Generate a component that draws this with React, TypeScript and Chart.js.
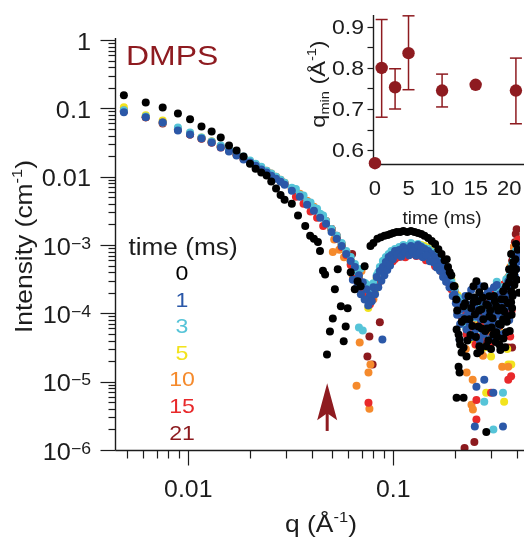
import React, { useEffect, useRef } from "react";
import { Chart, registerables } from "chart.js";

Chart.register(...registerables);

const FONT = '"Liberation Sans", Arial, Helvetica, sans-serif';
const INK = "#1c1c1c";
const DARK_RED = "#8e1b20";

// ---------- main plot data: [q (1/Å), intensity (1/cm)] ----------
const timeLabels = ["0", "1", "3", "5", "10", "15", "21"];
const seriesColors = ["#000000", "#2b58a8", "#56c4d8", "#f2e31d", "#f58a2c", "#e8292b", "#8c1a1e"];

const series_t0: number[][] = [
  [0.00485, 0.155], [0.0062, 0.122], [0.0075, 0.103], [0.0089, 0.084], [0.0102, 0.069], [0.0116, 0.054],
  [0.013, 0.046], [0.0144, 0.0375], [0.0158, 0.0286], [0.0172, 0.0242], [0.0186, 0.0198], [0.02, 0.0155],
  [0.0213, 0.0131], [0.0227, 0.0115], [0.0241, 0.0104], [0.0254, 0.0085], [0.0268, 0.0067], [0.0282, 0.0054],
  [0.0295, 0.0046], [0.032, 0.004], [0.0343, 0.0027], [0.0372, 0.0019], [0.0393, 0.00136], [0.041, 0.00123],
  [0.0429, 0.00111], [0.0439, 0.00082], [0.0454, 0.00042], [0.0465, 0.00037], [0.0475, 2.5e-5], [0.0491, 5.4e-5],
  [0.0507, 8.4e-5], [0.0519, 0.000225], [0.0536, 0.00044], [0.0555, 0.000127], [0.0573, 3.9e-5], [0.0586, 6.4e-5],
  [0.0599, 0.000119], [0.062, 0.0004], [0.0649, 0.000225], [0.067, 0.000296], [0.0693, 0.00025], [0.0725, 0.00049],
  [0.0774, 0.00097], [0.08, 0.00107], [0.0837, 0.00123], [0.087, 0.0013], [0.0906, 0.00136], [0.094, 0.0014],
  [0.0969, 0.00145], [0.1, 0.0015], [0.104, 0.00155], [0.108, 0.00155], [0.112, 0.0016], [0.117, 0.00155],
  [0.122, 0.0016], [0.127, 0.00155], [0.132, 0.0015], [0.137, 0.00145], [0.142, 0.00136], [0.148, 0.00127],
  [0.154, 0.00114], [0.16, 0.00103], [0.166, 0.00087], [0.172, 0.00074], [0.178, 0.0006], [0.1823, 0.00062],
  [0.185, 0.000475], [0.1886, 0.0004], [0.192, 0.00036], [0.1971, 0.00025], [0.199, 0.00025], [0.203, 0.00016],
  [0.2037, 5.8e-5], [0.2083, 4.9e-5], [0.2106, 4.15e-5], [0.2203, 3.16e-5], [0.2154, 2.67e-5], [0.2277, 2.33e-5],
  [0.2083, 1.66e-5], [0.2106, 1.36e-5], [0.2203, 5.8e-6], [0.2037, 5.8e-6], [0.2844, 1.84e-6], [0.2545, 0.000296],
  [0.2462, 0.000249], [0.2203, 0.000127], [0.2462, 0.000145], [0.2752, 8.2e-5], [0.2943, 9.0e-5], [0.318, 0.000127],
  [0.3437, 8.2e-5], [0.318, 5.3e-5], [0.3553, 5.3e-5], [0.2844, 3.3e-5], [0.2631, 3.3e-5], [0.2602, 6.4e-5],
  [0.2355, 8.2e-5], [0.2328, 0.000178], [0.3674, 0.000286], [0.3758, 0.000211], [0.3437, 0.000211], [0.2943, 0.000178],
  [0.2631, 0.000204], [0.3758, 0.00074], [0.3845, 0.00056], [0.3674, 0.00044], [0.3553, 0.00025], [0.3758, 0.000145],
  [0.3887, 0.000375], [0.3078, 4.9e-5], [0.329, 3.5e-5], [0.3366, 0.000161], [0.2844, 0.000136], [0.302, 6.2e-5],
  [0.269, 0.000115], [0.2503, 9.7e-5], [0.2228, 8.2e-5], [0.3475, 0.000107], [0.397, 0.00044], [0.397, 0.00103],
  [0.24, 0.00012], [0.258, 0.00015], [0.27, 6.0e-5], [0.29, 0.00013], [0.31, 0.00018], [0.325, 0.00011],
  [0.335, 6.8e-5], [0.35, 0.00016], [0.36, 9.0e-5], [0.38, 0.00012],
  [0.205, 0.00011], [0.212, 3.5e-5], [0.216, 7.5e-5], [0.224, 0.00014], [0.23, 4.0e-5], [0.238, 4.8e-5],
  [0.243, 6.5e-5], [0.249, 0.00017], [0.253, 4.5e-5], [0.257, 2.6e-5], [0.262, 0.00011], [0.266, 2.8e-5],
  [0.273, 0.00017], [0.278, 0.00025], [0.281, 5.5e-5], [0.287, 6.0e-5], [0.291, 4.0e-5], [0.297, 0.00011],
  [0.3, 3.0e-5], [0.305, 8.5e-5], [0.313, 0.00015], [0.316, 3.8e-5], [0.322, 4.5e-5], [0.328, 7.0e-5],
  [0.333, 2.9e-5], [0.339, 0.00012], [0.345, 4.3e-5], [0.352, 3.2e-5], [0.358, 7.5e-5], [0.363, 0.00014],
  [0.37, 5.5e-5], [0.373, 0.00034], [0.378, 9.5e-5], [0.382, 0.00018], [0.386, 0.00048], [0.39, 0.00026],
  [0.394, 0.00062], [0.401, 0.00031], [0.405, 0.00085], [0.41, 0.0002],
];

const series_t1: number[][] = [
  [0.00485, 0.0873], [0.0062, 0.0738], [0.0075, 0.0623], [0.0089, 0.0475], [0.0102, 0.0415], [0.0116, 0.0362],
  [0.013, 0.0316], [0.0144, 0.0267], [0.0158, 0.0233], [0.0172, 0.0204], [0.0186, 0.0178], [0.02, 0.0161],
  [0.0213, 0.0145], [0.0227, 0.0127], [0.0241, 0.0115], [0.0254, 0.0103], [0.0268, 0.00935], [0.0282, 0.00844],
  [0.0295, 0.00762], [0.032, 0.00622], [0.035, 0.00508], [0.038, 0.00388], [0.041, 0.00316], [0.044, 0.0025],
  [0.047, 0.00204], [0.05, 0.00155], [0.053, 0.00123], [0.056, 0.000966], [0.059, 0.000738], [0.062, 0.000582],
  [0.065, 0.000475], [0.068, 0.000362], [0.071, 0.000286], [0.074, 0.000225], [0.077, 0.000184], [0.08, 0.000241],
  [0.083, 0.000339], [0.086, 0.000415], [0.0885, 4.15e-5], [0.089, 0.000475], [0.092, 0.000562], [0.095, 0.000667],
  [0.098, 0.000713], [0.102, 0.000817], [0.107, 0.000846], [0.112, 0.000935], [0.117, 0.000873], [0.122, 0.000966],
  [0.127, 0.000904], [0.132, 0.001], [0.137, 0.000935], [0.142, 0.000873], [0.148, 0.000817], [0.154, 0.000738],
  [0.16, 0.000667], [0.166, 0.000562], [0.172, 0.000475], [0.178, 0.000415], [0.185, 0.000339], [0.192, 0.000258],
  [0.199, 0.00019], [0.206, 0.00015], [0.213, 0.000115], [0.22, 8.7e-5], [0.228, 0.000136], [0.236, 6.9e-5],
  [0.244, 0.000107], [0.252, 5.8e-5], [0.26, 0.000161], [0.268, 8.2e-5], [0.276, 4.9e-5], [0.284, 9.7e-5],
  [0.292, 6.2e-5], [0.3, 0.000115], [0.308, 7.6e-5], [0.316, 0.000161], [0.324, 9.7e-5], [0.332, 0.00019],
  [0.34, 0.000136], [0.348, 0.000225], [0.356, 0.000172], [0.364, 0.000296], [0.372, 0.000225], [0.38, 0.000375],
  [0.388, 0.000475], [0.396, 0.000582], [0.404, 0.000667], [0.412, 0.000738],
  [0.2106, 4.15e-5], [0.228, 5.8e-5], [0.2545, 8.4e-6], [0.3078, 6.9e-6], [0.25, 2.2e-6], [0.343, 2.2e-6],
  [0.278, 1.07e-5], [0.24, 0.00022], [0.265, 0.00025], [0.29, 0.00021], [0.31, 0.00024], [0.33, 0.00013],
  [0.35, 0.0001], [0.37, 0.00015], [0.385, 0.0003], [0.225, 0.00018], [0.27, 0.00015], [0.3, 0.00017], [0.32, 0.00026],
  [0.0995, 0.00062], [0.1045, 0.00072], [0.1095, 0.00068], [0.1145, 0.00078], [0.1195, 0.00071], [0.1245, 0.0008],
  [0.1295, 0.0007], [0.1345, 0.00076], [0.1395, 0.00066], [0.145, 0.0007], [0.151, 0.00058], [0.157, 0.00056],
  [0.163, 0.00047], [0.169, 0.00042], [0.175, 0.00034], [0.181, 0.00029], [0.188, 0.00024], [0.195, 0.00018],
  [0.202, 0.00014],
  [0.0635, 0.00031], [0.0665, 0.00024], [0.0695, 0.00019], [0.0725, 0.00016], [0.0755, 0.00013], [0.0785, 0.00015],
  [0.0815, 0.00019], [0.0845, 0.00024], [0.0875, 0.0003], [0.0905, 0.00036], [0.0935, 0.00043], [0.0965, 0.0005],
  [0.205, 9.5e-5], [0.212, 7.0e-5], [0.218, 0.00012], [0.232, 0.0001], [0.24, 4.5e-5], [0.248, 0.00013],
  [0.256, 9.0e-5], [0.264, 4.0e-5], [0.272, 0.00011], [0.28, 0.00018], [0.288, 7.5e-5], [0.296, 0.00014],
  [0.304, 4.5e-5], [0.312, 0.0001], [0.32, 6.0e-5], [0.328, 0.00015], [0.336, 9.0e-5], [0.344, 5.0e-5],
  [0.352, 0.00012], [0.36, 0.00021], [0.368, 8.0e-5], [0.376, 0.00026], [0.384, 0.00019], [0.392, 0.00035],
  [0.4, 0.00045], [0.408, 0.00058],
];

const series_t3: number[][] = [
  [0.00485, 0.0935], [0.0062, 0.0762], [0.0075, 0.0623], [0.0089, 0.0526], [0.0102, 0.0444], [0.0116, 0.0375],
  [0.013, 0.0327], [0.0144, 0.0286], [0.0158, 0.0249], [0.0172, 0.0218], [0.0186, 0.0197], [0.02, 0.0172],
  [0.0213, 0.0155], [0.0227, 0.014], [0.0241, 0.0122], [0.0254, 0.0111], [0.0268, 0.01], [0.0282, 0.00904],
  [0.0295, 0.00816], [0.032, 0.0069], [0.035, 0.00544], [0.038, 0.00429], [0.041, 0.0035], [0.044, 0.00286],
  [0.047, 0.00225], [0.05, 0.00172], [0.053, 0.00136], [0.056, 0.00107], [0.059, 0.000817], [0.062, 0.000667],
  [0.065, 0.000526], [0.068, 6.2e-5], [0.069, 0.000444], [0.071, 5.6e-5], [0.074, 0.000267], [0.077, 0.000211],
  [0.08, 0.000276], [0.083, 0.000362], [0.086, 0.000475], [0.089, 0.000582], [0.092, 0.000667], [0.095, 0.000738],
  [0.098, 0.000817], [0.102, 0.000873], [0.107, 0.000935], [0.112, 0.001], [0.117, 0.000966], [0.122, 0.00107],
  [0.127, 0.001], [0.132, 0.00103], [0.137, 0.000966], [0.142, 0.000904], [0.148, 0.000873], [0.154, 0.000789],
  [0.16, 0.000713], [0.166, 0.000622], [0.172, 0.000526], [0.178, 0.000444], [0.185, 0.000362], [0.192, 0.000296],
  [0.199, 0.000225], [0.206, 0.000172], [0.213, 0.000136], [0.22, 0.000161], [0.228, 8.2e-5], [0.236, 0.000115],
  [0.244, 4.9e-5], [0.252, 8.7e-5], [0.26, 6.2e-5], [0.268, 0.000136], [0.276, 8.2e-5], [0.284, 0.000115],
  [0.292, 4.15e-5], [0.3, 8.7e-5], [0.308, 0.000161], [0.316, 6.9e-5], [0.324, 0.000211], [0.332, 0.000115],
  [0.34, 0.000241], [0.348, 0.000161], [0.356, 0.000316], [0.364, 0.000225], [0.372, 0.000444], [0.38, 0.000526],
  [0.388, 0.000667], [0.396, 0.000817], [0.404, 0.000582],
  [0.278, 5.1e-6], [0.308, 2.0e-6], [0.343, 6.9e-6],
  [0.0335, 0.0066], [0.0365, 0.0053], [0.0395, 0.0042], [0.0425, 0.0034], [0.0455, 0.0027],
  [0.1045, 0.00085], [0.1145, 0.00092], [0.1245, 0.00095], [0.1345, 0.00088], [0.145, 0.0008], [0.157, 0.00066],
  [0.169, 0.0005], [0.181, 0.00038],
  [0.0665, 0.00041], [0.0725, 0.00028], [0.0785, 0.00024], [0.0845, 0.0004], [0.0905, 0.0006],
  [0.21, 0.00011], [0.225, 6.5e-5], [0.24, 0.00013], [0.256, 0.00017], [0.272, 5.5e-5], [0.288, 0.00019],
  [0.304, 0.00012], [0.32, 0.00029], [0.336, 8.0e-5], [0.352, 0.00024], [0.368, 0.00035], [0.384, 0.00049],
  [0.4, 0.00075], [0.41, 0.0009],
];

const series_t5: number[][] = [
  [0.00485, 0.1035], [0.0062, 0.0789], [0.0075, 0.0666], [0.0089, 0.0508], [0.0102, 0.0429], [0.0116, 0.0375],
  [0.013, 0.0327], [0.0144, 0.0276], [0.0158, 0.0241], [0.0172, 0.0211], [0.0186, 0.0184], [0.02, 0.0166],
  [0.0213, 0.015], [0.0227, 0.0131], [0.0241, 0.0119], [0.0254, 0.0107], [0.0268, 0.00966], [0.0282, 0.00873],
  [0.0295, 0.00789], [0.032, 0.00644], [0.035, 0.00526], [0.038, 0.00415], [0.041, 0.00327], [0.044, 0.00258],
  [0.047, 0.00211], [0.05, 0.00166], [0.053, 0.00127], [0.056, 0.001], [0.059, 0.000789], [0.062, 0.000582],
  [0.065, 0.000475], [0.068, 0.000362], [0.071, 0.000267], [0.074, 0.000161], [0.077, 0.000197], [0.08, 0.000258],
  [0.083, 0.000327], [0.086, 0.000415], [0.089, 0.000508], [0.092, 0.000582], [0.095, 0.000667], [0.098, 0.000713],
  [0.102, 0.000762], [0.107, 0.000846], [0.112, 0.000873], [0.117, 0.000935], [0.122, 0.000904], [0.127, 0.000966],
  [0.132, 0.000935], [0.137, 0.001], [0.142, 0.000966], [0.148, 0.000904], [0.154, 0.000817], [0.16, 0.000738],
  [0.166, 0.000644], [0.172, 0.000562], [0.178, 0.000475], [0.185, 0.000388], [0.192, 0.000316], [0.199, 0.000249],
  [0.206, 0.000184], [0.213, 0.000145], [0.22, 0.000107], [0.228, 7.6e-5], [0.236, 4.15e-5], [0.244, 8.7e-5],
  [0.252, 3.5e-5], [0.26, 6.9e-5], [0.268, 0.000115], [0.276, 3.16e-5], [0.284, 5.8e-5], [0.292, 0.000107],
  [0.3, 2.33e-5], [0.308, 8.2e-5], [0.316, 0.000161], [0.324, 4.9e-5], [0.332, 0.000172], [0.34, 9.7e-5],
  [0.348, 0.000225], [0.356, 0.000136], [0.364, 1.78e-5], [0.372, 0.000316], [0.38, 0.000444], [0.388, 0.000582],
  [0.396, 0.000873],
  [0.284, 6.9e-6], [0.3475, 5.1e-6], [0.278, 3.16e-5], [0.3765, 1.78e-5],
  [0.1045, 0.00068], [0.1195, 0.00075], [0.1345, 0.00079], [0.151, 0.00069], [0.163, 0.00052], [0.175, 0.0004],
  [0.0695, 0.00021], [0.0755, 0.00012], [0.0815, 0.00022],
  [0.215, 0.00013], [0.232, 5.0e-5], [0.248, 0.00011], [0.264, 2.6e-5], [0.28, 0.00015], [0.296, 4.4e-5],
  [0.312, 0.00018], [0.328, 6.0e-5], [0.344, 0.00026], [0.36, 3.0e-5], [0.376, 0.00021], [0.392, 0.00045],
  [0.405, 0.0011],
];

const series_t10: number[][] = [
  [0.00485, 0.0935], [0.0062, 0.0738], [0.0075, 0.0623], [0.0089, 0.0491], [0.0102, 0.0429], [0.0116, 0.0362],
  [0.013, 0.0327], [0.0144, 0.0276], [0.0158, 0.0241], [0.0172, 0.0211], [0.0186, 0.0184], [0.02, 0.0166],
  [0.0213, 0.015], [0.0227, 0.0136], [0.0241, 0.0122], [0.0254, 0.0111], [0.0268, 0.01], [0.0282, 0.00904],
  [0.0295, 0.00816], [0.032, 0.00667], [0.035, 0.00562], [0.038, 0.00444], [0.041, 0.00362], [0.044, 0.00276],
  [0.047, 0.00225], [0.0507, 0.000789], [0.05, 0.00172], [0.053, 0.00131], [0.056, 0.000873], [0.059, 0.000689],
  [0.062, 0.000526], [0.0686, 3.75e-5], [0.0662, 8.7e-6], [0.0774, 1.78e-5], [0.0757, 1.36e-5], [0.0765, 4.0e-6],
  [0.07, 0.000415], [0.074, 0.000225], [0.08, 0.000161], [0.083, 0.000276], [0.086, 0.000362], [0.089, 0.000444],
  [0.092, 0.000508], [0.095, 0.000582], [0.098, 0.000667], [0.102, 0.000713], [0.107, 0.000789], [0.112, 0.000873],
  [0.117, 0.000873], [0.122, 0.000935], [0.127, 0.000966], [0.132, 0.000904], [0.137, 0.000935], [0.142, 0.000873],
  [0.148, 0.000846], [0.154, 0.000762], [0.16, 0.000689], [0.166, 0.000582], [0.172, 0.000508], [0.178, 0.000429],
  [0.185, 0.00035], [0.192, 0.000276], [0.199, 0.000211], [0.206, 0.000161], [0.213, 0.000122], [0.22, 8.7e-5],
  [0.228, 1.36e-5], [0.236, 5.8e-5], [0.244, 1.07e-5], [0.252, 9.7e-5], [0.26, 4.15e-5], [0.268, 7.6e-5],
  [0.276, 0.000136], [0.284, 4.9e-5], [0.292, 0.000107], [0.3, 6.2e-5], [0.308, 0.000161], [0.316, 8.7e-5],
  [0.324, 0.00019], [0.332, 0.000115], [0.34, 1.66e-5], [0.348, 0.000211], [0.356, 0.000161], [0.364, 0.000339],
  [0.372, 0.000475], [0.38, 0.000738], [0.388, 0.000935],
  [0.2408, 4.6e-6], [0.2447, 3.9e-6], [0.364, 1.66e-5],
  [0.0515, 0.0012], [0.0545, 0.00085], [0.0575, 0.00066],
  [0.1095, 0.0007], [0.1245, 0.00076], [0.1395, 0.00072], [0.154, 0.00064], [0.169, 0.00045],
  [0.0635, 0.00035], [0.0725, 0.00019], [0.0875, 0.00033],
  [0.21, 0.0001], [0.226, 3.0e-5], [0.242, 7.0e-5], [0.258, 0.00013], [0.274, 2.4e-5], [0.29, 8.0e-5],
  [0.306, 0.00011], [0.322, 4.0e-5], [0.338, 0.00017], [0.354, 9.0e-5], [0.37, 0.00024], [0.386, 0.00052],
  [0.396, 0.0008], [0.41, 0.0011],
];

const series_t15: number[][] = [
  [0.00485, 0.0904], [0.0062, 0.0738], [0.0075, 0.0623], [0.0089, 0.0491], [0.0102, 0.0415], [0.0116, 0.0362],
  [0.013, 0.0316], [0.0144, 0.0267], [0.0158, 0.0241], [0.0172, 0.0211], [0.0186, 0.0184], [0.02, 0.0166],
  [0.0213, 0.015], [0.0227, 0.0131], [0.0241, 0.0119], [0.0254, 0.0107], [0.0268, 0.00966], [0.0282, 0.00873],
  [0.0295, 0.00789], [0.032, 0.00667], [0.035, 0.00526], [0.038, 0.00429], [0.041, 0.00338], [0.044, 0.00267],
  [0.047, 0.00218], [0.05, 0.00172], [0.053, 0.00123], [0.056, 0.000935], [0.059, 0.000713], [0.062, 0.000508],
  [0.065, 0.000388], [0.068, 0.000296], [0.071, 0.000225], [0.0757, 4.9e-6], [0.074, 0.000184], [0.077, 0.000136],
  [0.08, 0.00019], [0.083, 0.000258], [0.086, 0.000339], [0.089, 0.000429], [0.092, 0.000508], [0.095, 0.000582],
  [0.098, 0.000644], [0.102, 0.000622], [0.107, 0.000667], [0.112, 0.000689], [0.117, 0.000713], [0.122, 0.000738],
  [0.127, 0.000738], [0.132, 0.000713], [0.137, 0.000689], [0.142, 0.000667], [0.148, 0.000622], [0.154, 0.000582],
  [0.16, 0.000526], [0.166, 0.000475], [0.172, 0.000415], [0.178, 0.00035], [0.185, 0.000286], [0.192, 0.000225],
  [0.199, 0.000178], [0.206, 0.000136], [0.213, 0.000103], [0.22, 8.2e-5], [0.228, 4.9e-5], [0.236, 0.000107],
  [0.244, 6.2e-5], [0.252, 3.5e-5], [0.26, 0.000115], [0.268, 7.6e-5], [0.276, 0.000161], [0.284, 4.4e-5],
  [0.292, 9.7e-5], [0.3, 6.9e-6], [0.308, 6.9e-5], [0.316, 0.000136], [0.324, 8.7e-5], [0.332, 0.000172],
  [0.34, 0.000115], [0.348, 0.000267], [0.356, 0.000161], [0.364, 1.07e-5], [0.372, 4.6e-5], [0.38, 0.000375],
  [0.388, 0.000526], [0.396, 0.000713], [0.404, 0.000935],
  [0.2545, 2.8e-6], [0.2545, 5.4e-6], [0.3758, 1.2e-5],
  [0.0335, 0.0051], [0.0365, 0.004], [0.0395, 0.0031], [0.0425, 0.0025], [0.0455, 0.0019],
  [0.0995, 0.00058], [0.1145, 0.00066], [0.1295, 0.00069], [0.1445, 0.0006], [0.16, 0.00049],
  [0.0665, 0.0003], [0.0785, 0.00016], [0.0845, 0.00027],
  [0.218, 0.00011], [0.234, 7.0e-5], [0.25, 0.00015], [0.266, 4.5e-5], [0.282, 0.00012], [0.298, 3.5e-5],
  [0.314, 0.00021], [0.33, 6.5e-5], [0.346, 0.00015], [0.362, 0.0002], [0.378, 0.00011], [0.394, 0.0006],
  [0.408, 0.0012],
];

const series_t21: number[][] = [
  [0.00485, 0.0904], [0.0062, 0.0738], [0.0075, 0.0602], [0.0089, 0.0491], [0.0102, 0.0415], [0.0116, 0.0362],
  [0.013, 0.0316], [0.0144, 0.0276], [0.0158, 0.0241], [0.0172, 0.0211], [0.0186, 0.0184], [0.02, 0.0166],
  [0.0213, 0.015], [0.0227, 0.0131], [0.0241, 0.0119], [0.0254, 0.0107], [0.0268, 0.00966], [0.0282, 0.00873],
  [0.0295, 0.00789], [0.032, 0.00667], [0.035, 0.00544], [0.038, 0.00429], [0.041, 0.0035], [0.044, 0.00276],
  [0.047, 0.00225], [0.05, 0.00172], [0.053, 0.00136], [0.056, 0.00103], [0.059, 0.000789], [0.062, 0.000582],
  [0.065, 0.000444], [0.068, 0.000339], [0.071, 0.000241], [0.0748, 2.33e-5], [0.0765, 4.6e-5], [0.0793, 1.78e-5],
  [0.08, 0.000211], [0.083, 0.000267], [0.086, 7.4e-5], [0.089, 0.000415], [0.092, 0.000491], [0.095, 0.000582],
  [0.098, 0.000667], [0.102, 0.000713], [0.107, 0.000789], [0.112, 0.000817], [0.117, 0.000873], [0.122, 0.000904],
  [0.127, 0.000904], [0.132, 0.000873], [0.137, 0.000873], [0.142, 0.000817], [0.148, 0.000789], [0.154, 0.000738],
  [0.16, 0.000667], [0.166, 0.000582], [0.172, 0.000508], [0.178, 0.000429], [0.185, 0.00035], [0.192, 0.000276],
  [0.199, 0.000211], [0.206, 0.000161], [0.213, 0.000115], [0.22, 8.7e-5], [0.228, 5.8e-5], [0.236, 0.000107],
  [0.244, 8.2e-5], [0.252, 4.15e-5], [0.26, 0.000136], [0.268, 6.9e-5], [0.276, 9.7e-5], [0.284, 0.000161],
  [0.292, 5.8e-5], [0.3, 0.000115], [0.308, 0.00019], [0.316, 8.2e-5], [0.324, 0.000161], [0.332, 0.000225],
  [0.34, 0.000136], [0.348, 0.000267], [0.356, 0.00019], [0.364, 3.16e-5], [0.372, 0.000375], [0.38, 0.000582],
  [0.388, 0.000935], [0.396, 0.00145],
  [0.2487, 1.31e-6], [0.2228, 1.07e-6], [0.38, 3.16e-5],
  [0.063, 0.00074],
  [0.1095, 0.00075], [0.1245, 0.00082], [0.1395, 0.00076], [0.157, 0.00058], [0.172, 0.00041],
  [0.0695, 0.00026], [0.0755, 0.0002],
  [0.215, 9.0e-5], [0.232, 0.00012], [0.248, 5.0e-5], [0.264, 0.00016], [0.28, 3.8e-5], [0.296, 0.00013],
  [0.312, 4.8e-5], [0.328, 0.00011], [0.344, 0.0002], [0.36, 0.00013], [0.376, 0.00045], [0.392, 0.0011],
  [0.4, 0.0017],
];

const allSeries = [series_t0, series_t1, series_t3, series_t5, series_t10, series_t15, series_t21];
// first listed is drawn on top
const drawOrder = [0, 1, 2, 5, 4, 3, 6];

// ---------- axes ----------
const qMin = 0.004439;
const qMax = 0.4153;
const intensityMin = 1e-6;
const intensityMax = 1;
const xLabelValues = [0.01, 0.1];
const xLabelTexts = ["0.01", "0.1"];
const yLabelValues = [1, 0.1, 0.01, 1e-3, 1e-4, 1e-5, 1e-6];
const yLabelBase = ["1", "0.1", "0.01", "10", "10", "10", "10"];
const yLabelExp = ["", "", "", "\u22123", "\u22124", "\u22125", "\u22126"];

// arrow marking the minimum of the t = 0 curve
const arrowQ = 0.0476;
const arrowTipI = 9.5e-6;
const arrowTailI = 1.9e-6;

// ---------- inset data ----------
const insetTimes = [0, 1, 3, 5, 10, 15, 21];
const insetQmin = [0.568, 0.8, 0.753, 0.836, 0.745, 0.759, 0.745];
const insetErrLow = [null, 0.68, 0.7, 0.747, 0.705, null, 0.664];
const insetErrHigh = [null, 0.918, 0.798, 0.927, 0.785, null, 0.824];
const insetXTicks = [0, 5, 10, 15, 20];
const insetYLabelValues = [0.6, 0.7, 0.8, 0.9];
const insetYMinorValues = [0.6, 0.65, 0.7, 0.75, 0.8, 0.85, 0.9];

type Part = { t: string; size: number; dy?: number };

function drawRich(
  ctx: CanvasRenderingContext2D,
  parts: Part[],
  x: number,
  y: number,
  align: "left" | "center" | "right",
  stretch = 1,
  color = INK,
  rotate = 0
) {
  ctx.save();
  ctx.translate(x, y);
  if (rotate) ctx.rotate(rotate);
  ctx.scale(stretch, 1);
  ctx.fillStyle = color;
  ctx.textBaseline = "alphabetic";
  ctx.textAlign = "left";
  let total = 0;
  const widths = parts.map((p) => {
    ctx.font = `${p.size}px ${FONT}`;
    const w = ctx.measureText(p.t).width;
    total += w;
    return w;
  });
  let cx = align === "left" ? 0 : align === "center" ? -total / 2 : -total;
  parts.forEach((p, i) => {
    ctx.font = `${p.size}px ${FONT}`;
    ctx.fillText(p.t, cx, p.dy ?? 0);
    cx += widths[i];
  });
  ctx.restore();
}

function line(ctx: CanvasRenderingContext2D, x1: number, y1: number, x2: number, y2: number) {
  ctx.beginPath();
  ctx.moveTo(x1, y1);
  ctx.lineTo(x2, y2);
  ctx.stroke();
}

const mainDecor = {
  id: "mainDecor",
  afterDatasetsDraw(chart: any) {
    const ctx: CanvasRenderingContext2D = chart.ctx;
    const xs = chart.scales.x;
    const ys = chart.scales.y;
    const ca = chart.chartArea;
    ctx.save();
    ctx.strokeStyle = INK;
    ctx.lineWidth = 1.4;
    const ax = Math.round(ca.left) - 0.5;
    const ay = Math.round(ca.bottom) + 0.5;
    line(ctx, ax, ca.top - 2, ax, ay);
    line(ctx, ax, ay, chart.width, ay);
    ctx.lineWidth = 1.2;
    for (let e = -6; e <= 0; e++) {
      for (let m = 1; m <= 9; m++) {
        const v = m * Math.pow(10, e);
        if (v > intensityMax * 1.0001) break;
        const py = Math.round(ys.getPixelForValue(v)) + 0.5;
        const len = m === 1 ? 15 : 7;
        line(ctx, ax - len, py, ax, py);
      }
    }
    for (let e = -3; e <= -1; e++) {
      for (let m = 1; m <= 9; m++) {
        const v = m * Math.pow(10, e);
        if (v < qMin || v > qMax) continue;
        const px = Math.round(xs.getPixelForValue(v)) + 0.5;
        const len = m === 1 ? 15 : 8;
        line(ctx, px, ay, px, ay + len);
      }
    }
    yLabelValues.forEach((v, i) => {
      const py = ys.getPixelForValue(v);
      const parts: Part[] = [{ t: yLabelBase[i], size: 23 }];
      if (yLabelExp[i]) parts.push({ t: yLabelExp[i], size: 16, dy: -6 });
      drawRich(ctx, parts, 91, py + 9.5, "right", 1.1);
    });
    xLabelValues.forEach((v, i) => {
      const px = xs.getPixelForValue(v);
      drawRich(ctx, [{ t: xLabelTexts[i], size: 23 }], px, 497, "center", 1.08);
    });
    drawRich(
      ctx,
      [{ t: "q (\u00c5", size: 24 }, { t: "-1", size: 15, dy: -10 }, { t: ")", size: 24 }],
      321, 532, "center", 1.1
    );
    drawRich(
      ctx,
      [{ t: "Intensity (cm", size: 24 }, { t: "-1", size: 15, dy: -10 }, { t: ")", size: 24 }],
      32, 246.5, "center", 1.1, INK, -Math.PI / 2
    );
    drawRich(ctx, [{ t: "DMPS", size: 28 }], 126, 65, "left", 1.14, DARK_RED);
    drawRich(ctx, [{ t: "time (ms)", size: 23 }], 183, 255, "center", 1.14);
    timeLabels.forEach((lab, i) => {
      drawRich(ctx, [{ t: lab, size: 21 }], 182, 280 + i * 26.6, "center", 1.1, seriesColors[i]);
    });
    const axp = xs.getPixelForValue(arrowQ);
    const tipY = ys.getPixelForValue(arrowTipI);
    const tailY = ys.getPixelForValue(arrowTailI);
    ctx.fillStyle = DARK_RED;
    ctx.strokeStyle = DARK_RED;
    ctx.lineWidth = 3;
    line(ctx, axp, tipY + 20, axp, tailY);
    ctx.beginPath();
    ctx.moveTo(axp, tipY);
    ctx.lineTo(axp + 10, tipY + 37);
    ctx.lineTo(axp, tipY + 30);
    ctx.lineTo(axp - 10, tipY + 37);
    ctx.closePath();
    ctx.fill();
    ctx.restore();
  },
};

const insetDecor = {
  id: "insetDecor",
  beforeDatasetsDraw(chart: any) {
    const ctx: CanvasRenderingContext2D = chart.ctx;
    const xs = chart.scales.x;
    const ys = chart.scales.y;
    const ca = chart.chartArea;
    ctx.save();
    ctx.strokeStyle = INK;
    ctx.lineWidth = 1.4;
    const ax = Math.round(ca.left) + 0.5;
    const ay = Math.round(ca.bottom) + 0.5;
    line(ctx, ax, ca.top, ax, ay);
    line(ctx, ax, ay, chart.width, ay);
    ctx.lineWidth = 1.2;
    insetYMinorValues.forEach((v) => {
      const py = Math.round(ys.getPixelForValue(v)) + 0.5;
      line(ctx, ax - 6, py, ax, py);
    });
    ctx.strokeStyle = DARK_RED;
    ctx.lineWidth = 1.5;
    insetTimes.forEach((t, i) => {
      const lo = insetErrLow[i];
      const hi = insetErrHigh[i];
      if (lo == null || hi == null) return;
      const px = xs.getPixelForValue(t);
      const pl = ys.getPixelForValue(lo);
      const ph = ys.getPixelForValue(hi);
      line(ctx, px, pl, px, ph);
      line(ctx, px - 6, pl, px + 6, pl);
      line(ctx, px - 6, ph, px + 6, ph);
    });
    ctx.restore();
  },
  afterDraw(chart: any) {
    const ctx: CanvasRenderingContext2D = chart.ctx;
    const xs = chart.scales.x;
    const ys = chart.scales.y;
    insetYLabelValues.forEach((v) => {
      const py = ys.getPixelForValue(v);
      drawRich(ctx, [{ t: v.toFixed(1), size: 20 }], 74, py + 7, "right", 1.15);
    });
    insetXTicks.forEach((t) => {
      const px = xs.getPixelForValue(t);
      drawRich(ctx, [{ t: String(t), size: 20 }], px, 195, "center", 1.1);
    });
    drawRich(ctx, [{ t: "time (ms)", size: 19 }], 152, 224, "center", 1.0);
    drawRich(
      ctx,
      [
        { t: "q", size: 21 },
        { t: "min", size: 13, dy: 4 },
        { t: " (\u00c5", size: 21 },
        { t: "-1", size: 13, dy: -9 },
        { t: ")", size: 21 },
      ],
      35, 84, "center", 1.12, INK, -Math.PI / 2
    );
  },
};

export default function App() {
  const mainRef = useRef<HTMLCanvasElement | null>(null);
  const insetRef = useRef<HTMLCanvasElement | null>(null);

  useEffect(() => {
    if (!mainRef.current || !insetRef.current) return;
    const datasets = drawOrder.map((si) => ({
      label: timeLabels[si] + " ms",
      data: allSeries[si].map(([q, v]) => ({ x: q, y: v })),
      backgroundColor: seriesColors[si],
      borderWidth: 0,
      pointRadius: 4,
      pointHoverRadius: 4,
    }));
    const main = new Chart(mainRef.current, {
      type: "scatter",
      data: { datasets },
      options: {
        animation: false,
        responsive: false,
        events: [],
        layout: { padding: { left: 116, top: 40, right: 0, bottom: 89 } },
        plugins: { legend: { display: false }, tooltip: { enabled: false } },
        scales: {
          x: { type: "logarithmic", min: qMin, max: qMax, display: false },
          y: { type: "logarithmic", min: intensityMin, max: intensityMax, display: false },
        },
      },
      plugins: [mainDecor],
    } as any);

    const inset = new Chart(insetRef.current, {
      type: "scatter",
      data: {
        datasets: [
          {
            label: "qmin",
            data: insetTimes.map((t, i) => ({ x: t, y: insetQmin[i] })),
            backgroundColor: DARK_RED,
            borderWidth: 0,
            pointRadius: 6.2,
            pointHoverRadius: 6.2,
            clip: false,
          },
        ],
      },
      options: {
        animation: false,
        responsive: false,
        events: [],
        layout: { padding: { left: 83, top: 15, right: 0, bottom: 71 } },
        plugins: { legend: { display: false }, tooltip: { enabled: false } },
        scales: {
          x: { type: "linear", min: -0.29, max: 21.28, display: false },
          y: { type: "linear", min: 0.566, max: 0.929, display: false },
        },
      },
      plugins: [insetDecor],
    } as any);

    return () => {
      main.destroy();
      inset.destroy();
    };
  }, []);

  return (
    <div style={{ position: "absolute", left: 0, top: 0, width: 524, height: 539, background: "#fff", overflow: "hidden" }}>
      <canvas ref={mainRef} width={524} height={539} style={{ position: "absolute", left: 0, top: 0 }} />
      <canvas ref={insetRef} width={234} height={235} style={{ position: "absolute", left: 290, top: 0 }} />
    </div>
  );
}
